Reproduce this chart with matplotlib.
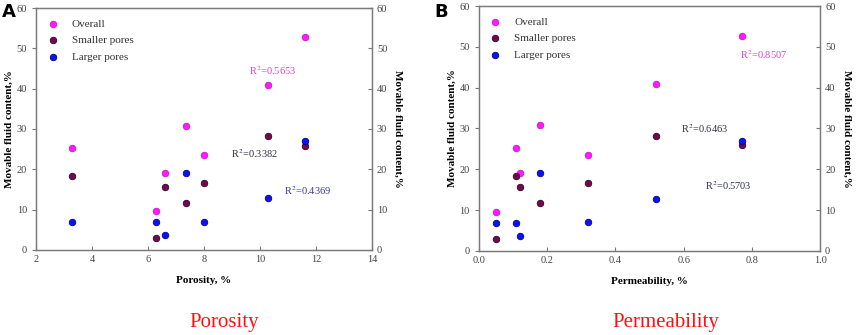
import matplotlib.pyplot as plt
import numpy as np

porosity = [3.3, 6.3, 6.6, 7.35, 8.0, 10.3, 11.6]
permeability = [0.11, 0.05, 0.12, 0.18, 0.32, 0.52, 0.77]
overall = [25.2, 9.6, 19.2, 30.8, 23.6, 41.0, 52.7]
smaller = [18.3, 2.9, 15.6, 11.7, 16.7, 28.2, 25.9]
larger = [6.9, 6.8, 3.6, 19.2, 7.0, 12.8, 26.9]

series_names = ["Overall", "Smaller pores", "Larger pores"]
series_colors = ["#ff1aff", "#6e0a50", "#0a14f0"]
edge_colors = ["#d010d0", "#3a0028", "#0000a0"]

# R^2 labels: (text, x, y, colour)
r2_porosity = [("0.5653", 9.6, 44.6, "#e040c8"),
               ("0.3382", 8.95, 24.0, "#303048"),
               ("0.4369", 10.85, 14.8, "#3838a8")]
r2_perm = [("0.8507", 0.765, 48.1, "#e040c8"),
           ("0.6463", 0.593, 30.0, "#303048"),
           ("0.5703", 0.663, 15.9, "#303060")]

plt.rcParams["font.family"] = ["Liberation Serif", "DejaVu Serif"]
plt.rcParams["mathtext.fontset"] = "stix"

fig = plt.figure(figsize=(8.58, 3.35), dpi=100)
ax1 = fig.add_axes([0.042, 0.254, 0.3916, 0.722])
ax2 = fig.add_axes([0.558, 0.251, 0.398, 0.731])

grey = "#7a7a7a"


def style_axis(ax, xdata, xlim, xticks, xfmt, xlabel, r2):
    for vals, name, c, ec in zip([overall, smaller, larger], series_names, series_colors, edge_colors):
        ax.scatter(xdata, vals, s=22, color=c, edgecolors=ec, linewidths=0.6, label=name, zorder=3)
    ax.set_xlim(xlim)
    ax.set_ylim(0, 60)
    ax.set_xticks(xticks)
    ax.set_xticklabels([xfmt.format(t) for t in xticks])
    ax.set_yticks(range(0, 61, 10))
    for s in ax.spines.values():
        s.set_color(grey)
        s.set_linewidth(1.0)
    ax.tick_params(axis="both", colors=grey, labelcolor="#444444", labelsize=7.5, length=3, width=0.8)
    ax.tick_params(axis="x", direction="in")
    ax.set_xlabel(xlabel, fontsize=8, fontweight="bold", labelpad=9)
    ax.set_ylabel("Movable fluid content,%", fontsize=8, fontweight="bold", labelpad=2)
    axr = ax.twinx()
    axr.set_ylim(0, 60)
    axr.set_yticks(range(0, 61, 10))
    axr.tick_params(axis="y", colors=grey, labelcolor="#444444", labelsize=7.5, length=3, width=0.8, direction="in")
    for s in axr.spines.values():
        s.set_color(grey)
    axr.set_ylabel("Movable fluid content,%", fontsize=8, fontweight="bold", rotation=270, labelpad=11)
    for txt, x, y, c in r2:
        ax.text(x, y, r"R$^2$=" + txt, color=c, fontsize=7.5, va="center", ha="left")
    leg = ax.legend(loc="upper left", frameon=False, fontsize=8, handletextpad=1.2,
                    labelspacing=0.6, borderaxespad=0.6, handlelength=1.0, markerscale=1.0)
    for t in leg.get_texts():
        t.set_color("#333333")


style_axis(ax1, porosity, (2, 14), [2, 4, 6, 8, 10, 12, 14], "{:g}", "Porosity, %", r2_porosity)
style_axis(ax2, permeability, (0, 1.0), [0.0, 0.2, 0.4, 0.6, 0.8, 1.0], "{:.1f}", "Permeability, %", r2_perm)

fig.text(0.002, 0.992, "A", fontsize=13, fontweight="bold", family="DejaVu Sans", va="top", ha="left")
fig.text(0.506, 0.992, "B", fontsize=13, fontweight="bold", family="DejaVu Sans", va="top", ha="left")

fig.text(0.261, 0.038, "Porosity", fontsize=15, color="#ff1010", ha="center", va="center")
fig.text(0.776, 0.038, "Permeability", fontsize=15, color="#ff1010", ha="center", va="center")

fig.savefig("out.png", dpi=100)
